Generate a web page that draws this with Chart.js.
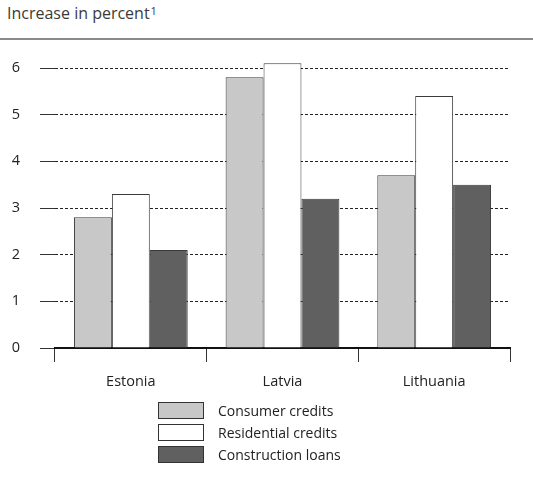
<!DOCTYPE html>
<html>
<head>
<meta charset="utf-8">
<script src="https://cdn.jsdelivr.net/npm/chart.js@4"></script>
<style>
  html, body { margin: 0; padding: 0; background: #fff; }
  body { width: 533px; height: 489px; position: relative; overflow: hidden; font-family: "Open Sans", "Noto Sans", sans-serif; }
  #title { position: absolute; left: 7px; top: 2px; font-size: 16px; color: #3a3a3a; }
  #title sup { font-size: 11px; vertical-align: 4px; margin-left: 1px; }
  #rule { position: absolute; left: 0; top: 38px; width: 533px; height: 2px; background: #8a8a8a; }
  #wrap { position: absolute; left: 0; top: 0; width: 533px; height: 489px; }
  #legend { position: absolute; left: 158px; top: 399px; }
  .item { height: 22px; display: flex; align-items: center; font-size: 14px; color: #222; }
  .box { width: 46px; height: 17px; border: 1px solid #333; box-sizing: border-box; margin-right: 14px; }
</style>
</head>
<body>
<div id="title">Increase in percent<sup>1</sup></div>
<div id="rule"></div>
<div id="wrap"><canvas id="c" width="533" height="489"></canvas></div>
<div id="legend"></div>
<script>
const categories = ["Estonia", "Latvia", "Lithuania"];
const seriesNames = ["Consumer credits", "Residential credits", "Construction loans"];
const consumerCredits = [2.8, 5.8, 3.7];
const residentialCredits = [3.3, 6.1, 5.4];
const constructionLoans = [2.1, 3.2, 3.5];
const yTicks = [0, 1, 2, 3, 4, 5, 6];
const colors = ["#c8c8c8", "#ffffff", "#606060"];

const seriesValues = [consumerCredits, residentialCredits, constructionLoans];
const datasets = seriesNames.map((n, i) => ({
  label: n,
  data: seriesValues[i],
  backgroundColor: colors[i],
  borderColor: "#3a3a3a",
  borderWidth: 1,
  categoryPercentage: 0.75,
  barPercentage: 1.0,
  clip: false
}));

new Chart(document.getElementById("c"), {
  type: "bar",
  data: { labels: categories, datasets },
  options: {
    responsive: false,
    animation: false,
    devicePixelRatio: 1,
    layout: { padding: { top: 68, right: 23, bottom: 96, left: 0 } },
    plugins: { legend: { display: false }, tooltip: { enabled: false } },
    scales: {
      x: {
        afterFit: s => { s.height = 45; },
        grid: { offset: true, drawOnChartArea: false, drawTicks: true, tickLength: 14, tickColor: "#333", tickWidth: 1 },
        border: { display: true, color: "#111", width: 2 },
        ticks: { color: "#222", font: { family: "Open Sans", size: 14.5 }, padding: 11 }
      },
      y: {
        min: 0, max: 6,
        afterFit: s => { s.width = 55; },
        afterBuildTicks: s => { s.ticks = yTicks.map(v => ({ value: v })); },
        grid: { color: "#222", lineWidth: 1, tickBorderDash: [1, 0], tickLength: 15, tickColor: "#333", tickWidth: 1 },
        border: { display: false, dash: [3, 2] },
        ticks: { color: "#222", font: { family: "Open Sans", size: 14.5 }, padding: 20 }
      }
    }
  }
});

const leg = document.getElementById("legend");
seriesNames.forEach((n, i) => {
  const d = document.createElement("div");
  d.className = "item";
  d.innerHTML = '<div class="box" style="background:' + colors[i] + '"></div><span></span>';
  d.querySelector("span").textContent = n;
  leg.appendChild(d);
});
</script>
</body>
</html>
